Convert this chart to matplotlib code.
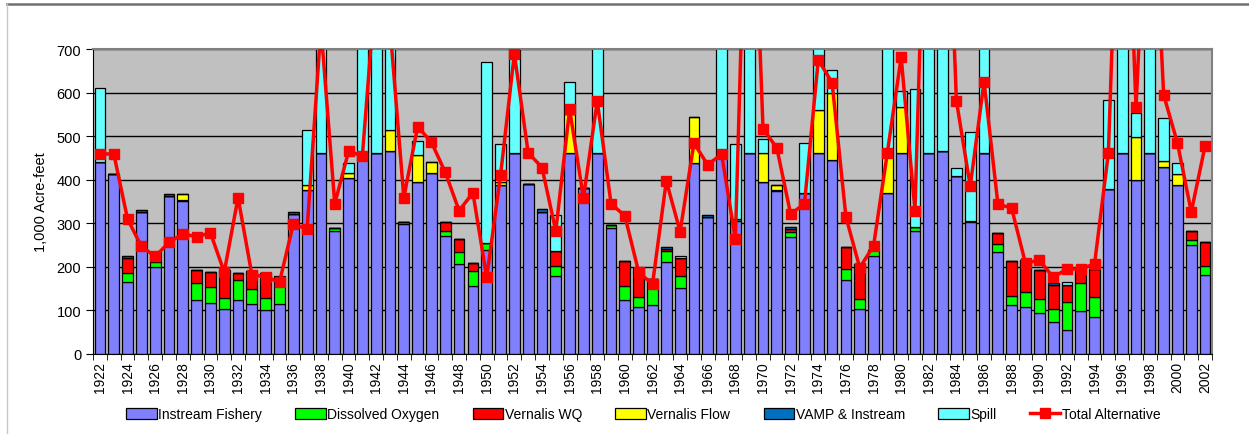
import matplotlib
matplotlib.use('Agg')
import matplotlib.pyplot as plt
from matplotlib.lines import Line2D
import numpy as np

plt.rcParams['font.family'] = ['Liberation Sans', 'DejaVu Sans']

# Data (1,000 acre-feet), water years 1922-2002
years = list(range(1922, 2003))

instream = [440, 414, 165, 326, 199, 363, 351, 123, 117, 103,
            123, 115, 100, 115, 321, 376, 462, 282, 405, 446,
            462, 465, 298, 395, 415, 271, 207, 155, 239, 389,
            462, 391, 326, 179, 462, 380, 462, 290, 123, 107,
            112, 212, 151, 439, 315, 469, 305, 462, 395, 374,
            268, 370, 462, 446, 170, 103, 226, 370, 462, 282,
            462, 467, 408, 302, 462, 235, 113, 108, 93, 74,
            56, 98, 85, 378, 462, 400, 462, 429, 389, 250,
            182]
dissolved_oxygen = [0, 0, 21, 0, 13, 0, 3, 40, 37, 26,
                    47, 34, 29, 54, 0, 0, 0, 8, 0, 0,
                    0, 0, 5, 0, 0, 11, 28, 36, 15, 0,
                    0, 0, 0, 24, 0, 0, 0, 6, 32, 23,
                    39, 25, 27, 0, 0, 0, 5, 0, 0, 3,
                    11, 0, 0, 0, 26, 23, 13, 0, 0, 10,
                    0, 0, 0, 4, 0, 17, 21, 34, 33, 29,
                    63, 65, 46, 0, 0, 0, 0, 0, 0, 12,
                    21]
vernalis_wq = [0, 0, 34, 0, 21, 0, 0, 29, 34, 64,
               16, 42, 57, 0, 0, 0, 0, 0, 0, 0,
               0, 0, 0, 0, 0, 21, 30, 19, 0, 0,
               0, 0, 0, 34, 0, 0, 0, 0, 59, 67,
               21, 4, 42, 0, 0, 0, 0, 0, 0, 0,
               9, 0, 0, 0, 50, 81, 0, 0, 0, 0,
               0, 0, 0, 0, 0, 25, 80, 74, 67, 56,
               40, 35, 64, 0, 0, 0, 0, 0, 0, 20,
               55]
vernalis_flow = [0, 0, 0, 0, 0, 0, 14, 0, 0, 0,
                 0, 0, 0, 0, 0, 13, 0, 0, 10, 0,
                 0, 49, 0, 62, 25, 0, 0, 0, 0, 6,
                 0, 0, 0, 0, 89, 0, 0, 0, 0, 0,
                 0, 0, 0, 104, 0, 0, 0, 0, 67, 10,
                 0, 0, 98, 154, 0, 0, 0, 101, 106, 0,
                 0, 0, 0, 0, 0, 0, 0, 0, 0, 0,
                 0, 0, 0, 0, 0, 97, 0, 14, 23, 0,
                 0]
vamp_instream = [0, 0, 4, 4, 0, 4, 0, 0, 0, 0,
                 0, 0, 0, 0, 5, 0, 0, 0, 0, 0,
                 0, 0, 0, 0, 0, 0, 0, 0, 0, 0,
                 0, 0, 6, 0, 0, 0, 0, 0, 0, 0,
                 0, 4, 0, 0, 4, 0, 0, 0, 0, 0,
                 4, 0, 0, 0, 0, 0, 0, 0, 0, 0,
                 0, 0, 0, 0, 0, 0, 0, 0, 0, 3,
                 0, 0, 0, 0, 0, 0, 0, 0, 0, 0,
                 0]
spill = [170, 0, 0, 0, 0, 0, 0, 0, 0, 0,
         0, 0, 0, 10, 0, 124, 538, 0, 23, 554,
         538, 486, 0, 31, 0, 0, 0, 0, 416, 87,
         538, 0, 0, 82, 74, 0, 538, 0, 0, 0,
         0, 0, 5, 0, 0, 531, 172, 538, 32, 0,
         0, 114, 160, 51, 0, 0, 0, 529, 36, 317,
         538, 533, 19, 203, 538, 0, 0, 0, 0, 0,
         6, 0, 0, 206, 538, 57, 538, 98, 26, 0,
         0]
total_alternative = [458, 460, 310, 247, 224, 256, 276, 269, 278, 188,
                     359, 182, 177, 165, 298, 287, 750, 345, 465, 455,
                     860, 750, 359, 522, 486, 417, 329, 370, 176, 410,
                     689, 462, 428, 282, 562, 358, 581, 345, 317, 188,
                     160, 397, 281, 484, 434, 459, 264, 1370, 517, 473,
                     321, 345, 675, 623, 315, 198, 248, 462, 681, 329,
                     1400, 1400, 581, 385, 625, 345, 334, 208, 216, 176,
                     195, 195, 207, 461, 1400, 566, 1250, 595, 484, 326,
                     478]

series = [
    ('Instream Fishery', instream, '#8080FF'),
    ('Dissolved Oxygen', dissolved_oxygen, '#00FF00'),
    ('Vernalis WQ', vernalis_wq, '#FF0000'),
    ('Vernalis Flow', vernalis_flow, '#FFFF00'),
    ('VAMP & Instream', vamp_instream, '#0070C0'),
    ('Spill', spill, '#66FFFF'),
]

fig = plt.figure(figsize=(12.49, 4.35), dpi=100)
ax = fig.add_axes([93 / 1249, 1 - 355 / 435, (1212 - 93) / 1249, 305 / 435])
ax.set_facecolor('#C0C0C0')

x = np.arange(len(years))
bottom = np.zeros(len(years))
for name, vals, col in series:
    vals = np.array(vals, dtype=float)
    ax.bar(x, vals, width=0.78, bottom=bottom, color=col, edgecolor='black',
           linewidth=0.9, label=name, zorder=2)
    bottom += vals

ax.plot(x, total_alternative, color='#FF0000', linewidth=2.5, marker='s',
        markersize=7, label='Total Alternative', zorder=3)

ax.set_xlim(-0.5, len(years) - 0.5)
ax.set_ylim(0, 700)
ax.set_yticks(range(0, 701, 100))
ax.yaxis.grid(True, color='black', linewidth=1)
ax.set_axisbelow(True)
ax.tick_params(axis='y', labelsize=10.5, length=5, direction='out')
ax.set_ylabel('1,000 Acre-feet', fontsize=10.5, labelpad=6)

ax.set_xticks(x[::2])
ax.set_xticklabels([str(y) for y in years[::2]], rotation=90, fontsize=10)
ax.set_xticks(np.arange(-0.5, len(years)), minor=True)
ax.tick_params(axis='x', which='major', length=0, pad=5)
ax.tick_params(axis='x', which='minor', length=4)

for s in ['top', 'right']:
    ax.spines[s].set_color('#808080')
    ax.spines[s].set_linewidth(1.5)
ax.spines['left'].set_color('black')
ax.spines['bottom'].set_color('black')

# outer chart border (partly cropped)
fig.add_artist(Line2D([7 / 1249, 1], [1 - 5 / 435, 1 - 5 / 435], color='#707070', linewidth=1.8))
fig.add_artist(Line2D([7 / 1249, 7 / 1249], [0, 1 - 5 / 435], color='#C8C8C8', linewidth=1))

# legend: bars first, total line last
handles, labels = ax.get_legend_handles_labels()
handles = handles[1:] + handles[:1]
labels = labels[1:] + labels[:1]
fig.legend(handles, labels, loc='center', bbox_to_anchor=(0.515, 0.045), ncol=7,
           frameon=False, fontsize=10, handlelength=2.2, handleheight=0.8,
           columnspacing=2.4, handletextpad=0.1)

fig.savefig('out.png', dpi=100)
